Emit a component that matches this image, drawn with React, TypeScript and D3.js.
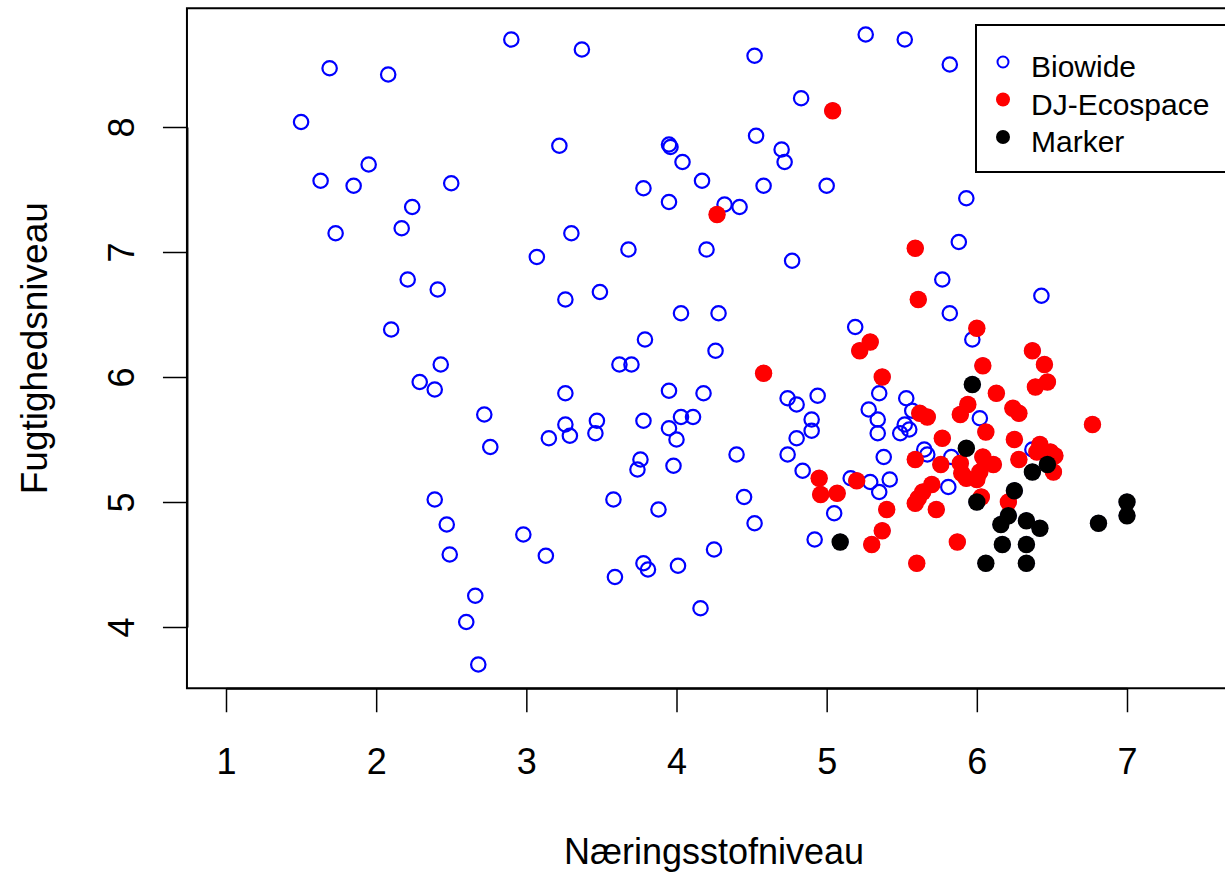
import React, { useEffect, useRef } from 'react';
import * as d3 from 'd3';

type Pt = [number, number];

// Næringsstofniveau (x), Fugtighedsniveau (y)
const biowide: Pt[] = [
  [2.90, 8.70], [3.37, 8.62], [1.69, 8.47], [2.08, 8.42], [1.50, 8.04], [3.22, 7.85],
  [1.95, 7.70], [1.63, 7.57], [1.85, 7.53], [2.50, 7.55], [2.24, 7.36], [1.73, 7.15],
  [2.17, 7.19], [3.30, 7.15], [3.07, 6.96], [2.21, 6.78], [2.41, 6.70], [3.26, 6.62],
  [3.49, 6.68], [2.10, 6.38], [2.43, 6.10], [4.52, 8.57], [5.26, 8.74], [5.52, 8.70],
  [5.82, 8.50], [4.83, 8.23], [3.95, 7.86], [3.96, 7.84], [4.04, 7.72], [4.17, 7.57],
  [4.53, 7.93], [4.70, 7.82], [4.72, 7.72], [4.58, 7.53], [5.00, 7.53], [3.78, 7.51],
  [3.95, 7.40], [4.32, 7.38], [4.42, 7.36], [5.93, 7.43], [3.68, 7.02], [4.20, 7.02],
  [5.88, 7.08], [5.77, 6.78], [5.82, 6.51], [5.97, 6.30], [4.03, 6.51], [4.28, 6.51],
  [3.79, 6.30], [4.26, 6.21], [5.19, 6.40], [3.62, 6.10], [3.70, 6.10], [2.29, 5.96],
  [2.39, 5.90], [2.72, 5.70], [2.76, 5.44], [3.26, 5.87], [3.26, 5.62], [3.29, 5.53],
  [3.15, 5.51], [3.47, 5.65], [3.46, 5.55], [2.39, 5.02], [2.47, 4.82], [2.49, 4.58],
  [2.98, 4.74], [3.13, 4.57], [2.66, 4.25], [2.60, 4.04], [2.68, 3.70], [3.95, 5.89],
  [4.18, 5.87], [3.78, 5.65], [3.95, 5.59], [4.03, 5.68], [4.11, 5.68], [4.00, 5.50],
  [3.76, 5.34], [3.74, 5.26], [3.98, 5.29], [4.40, 5.38], [3.58, 5.02], [3.88, 4.94],
  [4.45, 5.04], [4.52, 4.83], [4.25, 4.62], [3.78, 4.51], [3.81, 4.46], [3.59, 4.40],
  [4.01, 4.49], [4.16, 4.15], [4.74, 5.83], [4.80, 5.78], [4.94, 5.85], [4.90, 5.66],
  [4.90, 5.57], [4.80, 5.51], [4.74, 5.38], [4.84, 5.25], [5.05, 4.91], [4.92, 4.70],
  [5.16, 5.19], [5.29, 5.16], [5.35, 5.08], [5.42, 5.18], [5.38, 5.36], [5.34, 5.55],
  [5.34, 5.66], [5.28, 5.74], [5.35, 5.87], [5.53, 5.83], [5.52, 5.62], [5.49, 5.55],
  [5.55, 5.58], [5.57, 5.73], [5.65, 5.42], [5.67, 5.38], [5.83, 5.36], [6.02, 5.67],
  [5.81, 5.12], [4.77, 6.93], [6.43, 6.65], [6.37, 5.42],
];

const djEcospace: Pt[] = [
  [5.04, 8.13], [4.27, 7.30], [5.59, 7.03], [5.61, 6.62], [6.00, 6.39], [5.29, 6.28],
  [5.22, 6.21], [4.58, 6.03], [5.37, 6.00], [6.04, 6.09], [6.13, 5.87], [6.37, 6.21],
  [6.45, 6.10], [6.47, 5.96], [6.39, 5.92], [5.94, 5.78], [5.89, 5.70], [6.24, 5.75],
  [6.28, 5.71], [5.62, 5.71], [5.67, 5.68], [6.77, 5.62], [6.06, 5.56], [5.77, 5.51],
  [6.25, 5.50], [5.59, 5.34], [5.76, 5.30], [5.89, 5.31], [5.90, 5.23], [5.93, 5.19],
  [6.04, 5.36], [6.11, 5.30], [6.02, 5.24], [6.00, 5.18], [6.42, 5.46], [6.49, 5.40],
  [6.40, 5.40], [6.52, 5.37], [6.28, 5.34], [6.51, 5.24], [4.95, 5.19], [4.96, 5.06],
  [5.07, 5.07], [5.20, 5.17], [5.40, 4.94], [5.37, 4.77], [5.30, 4.66], [5.70, 5.14],
  [5.64, 5.08], [5.61, 5.03], [5.59, 4.99], [5.73, 4.94], [6.03, 5.04], [6.21, 5.00],
  [5.87, 4.68], [5.60, 4.51],
];

const marker: Pt[] = [
  [5.09, 4.68], [5.97, 5.94], [5.93, 5.43], [6.00, 5.00], [6.47, 5.30], [6.37, 5.24],
  [6.25, 5.09], [6.21, 4.89], [6.16, 4.82], [6.33, 4.85], [6.42, 4.79], [6.17, 4.66],
  [6.33, 4.66], [6.06, 4.51], [6.33, 4.51], [7.00, 5.00], [7.00, 4.89], [6.81, 4.83],
];

const xTicks = [1, 2, 3, 4, 5, 6, 7];
const yTicks = [4, 5, 6, 7, 8];
const xTitle = 'Næringsstofniveau';
const yTitle = 'Fugtighedsniveau';
const legendItems = [
  { label: 'Biowide', color: 'blue', filled: false },
  { label: 'DJ-Ecospace', color: 'red', filled: true },
  { label: 'Marker', color: 'black', filled: true },
];

const W = 1225;
const H = 874;
const FONT = '"Liberation Sans", Arial, sans-serif';

export default function App() {
  const svgRef = useRef<SVGSVGElement>(null);

  useEffect(() => {
    document.body.style.margin = '0';
    if (!svgRef.current) return;
    const svg = d3.select(svgRef.current);
    svg.selectAll('*').remove();

    // plot region (R style, xlim 1..7.5 expanded 4%)
    const x = d3.scaleLinear().domain([1, 7]).range([226, 1127]);
    const y = d3.scaleLinear().domain([4, 8]).range([627, 127]);
    const left = x(0.74), right = x(7.76);
    const top = y(8.95), bottom = y(3.51);

    svg.append('rect').attr('width', W).attr('height', H).attr('fill', '#fff');

    // points: blue rings for everything, then filled overplots
    const g = svg.append('g');
    const all = [...biowide, ...djEcospace, ...marker];
    g.selectAll('circle.ring')
      .data(all)
      .enter()
      .append('circle')
      .attr('class', 'ring')
      .attr('cx', d => x(d[0]))
      .attr('cy', d => y(d[1]))
      .attr('r', 7.2)
      .attr('fill', 'none')
      .attr('stroke', 'blue')
      .attr('stroke-width', 2.2);

    const filled = (data: Pt[], color: string) => {
      g.append('g')
        .selectAll('circle')
        .data(data)
        .enter()
        .append('circle')
        .attr('cx', d => x(d[0]))
        .attr('cy', d => y(d[1]))
        .attr('r', 8.7)
        .attr('fill', color);
    };
    filled(djEcospace, 'red');
    filled(marker, 'black');

    // box
    svg.append('rect')
      .attr('x', left).attr('y', top)
      .attr('width', right - left).attr('height', bottom - top)
      .attr('fill', 'none').attr('stroke', '#000').attr('stroke-width', 2);

    // x axis
    const gx = svg.append('g')
      .attr('transform', `translate(0,${bottom})`)
      .call(d3.axisBottom(x).tickValues(xTicks).tickSize(24).tickSizeOuter(0).tickPadding(36).tickFormat(d3.format('d')));
    gx.select('.domain').attr('stroke-width', 2);
    gx.selectAll('.tick line').attr('stroke-width', 1.5);
    gx.selectAll('text').attr('font-family', FONT).attr('font-size', 36).attr('fill', '#000');

    // y axis
    const gy = svg.append('g')
      .attr('transform', `translate(${left},0)`)
      .call(d3.axisLeft(y).tickValues(yTicks).tickSize(24).tickSizeOuter(0).tickFormat(d3.format('d')));
    gy.select('.domain').attr('stroke-width', 2);
    gy.selectAll('.tick line').attr('stroke-width', 1.5);
    gy.selectAll('.tick text')
      .attr('x', null).attr('dy', null)
      .attr('font-family', FONT).attr('font-size', 36).attr('fill', '#000')
      .attr('text-anchor', 'middle')
      .attr('transform', 'translate(-53,0) rotate(-90)');

    // titles
    svg.append('text')
      .attr('x', (left + right) / 2).attr('y', 864)
      .attr('text-anchor', 'middle')
      .attr('font-family', FONT).attr('font-size', 36)
      .text(xTitle);
    svg.append('text')
      .attr('transform', `translate(47,${(top + bottom) / 2}) rotate(-90)`)
      .attr('text-anchor', 'middle')
      .attr('font-family', FONT).attr('font-size', 37)
      .text(yTitle);

    // legend
    const lg = svg.append('g');
    lg.append('rect')
      .attr('x', 976).attr('y', 25).attr('width', right - 976).attr('height', 147)
      .attr('fill', '#fff').attr('stroke', '#000').attr('stroke-width', 2);
    legendItems.forEach((it, i) => {
      const cy = 62 + i * 37.5;
      if (it.filled) {
        lg.append('circle').attr('cx', 1003).attr('cy', cy).attr('r', 7).attr('fill', it.color);
      } else {
        lg.append('circle').attr('cx', 1003).attr('cy', cy).attr('r', 5.5)
          .attr('fill', 'none').attr('stroke', it.color).attr('stroke-width', 2);
      }
      lg.append('text')
        .attr('x', 1031).attr('y', cy + 15)
        .attr('font-family', FONT).attr('font-size', 30)
        .text(it.label);
    });
  }, []);

  return <svg ref={svgRef} width={W} height={H} style={{ display: 'block' }} />;
}
